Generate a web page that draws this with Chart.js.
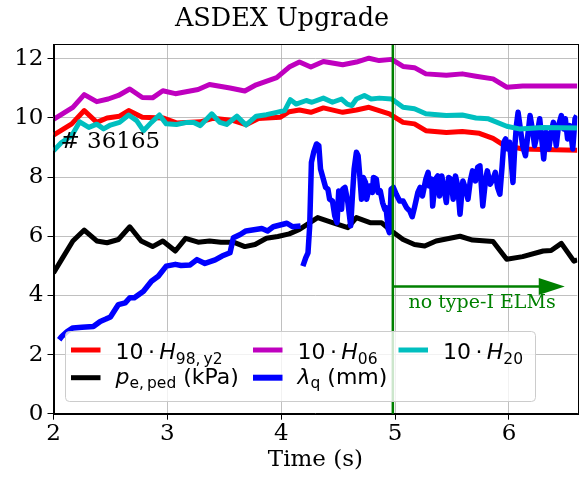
<!DOCTYPE html>
<html>
<head>
<meta charset="utf-8">
<script src="https://cdn.jsdelivr.net/npm/chart.js@4.4.1/dist/chart.umd.min.js"></script>
<style>
  html, body { margin: 0; padding: 0; background: #fff; }
  canvas { display: block; }
</style>
</head>
<body>
<canvas id="myChart" width="588" height="477"></canvas>
<script>
// 10*H98,y2
const h98T = [2.0, 2.16, 2.27, 2.38, 2.47, 2.58, 2.66, 2.78, 2.96, 3.08, 3.29, 3.40, 3.58, 3.69, 3.80, 3.99, 4.07, 4.16, 4.26, 4.37, 4.54, 4.66, 4.77, 4.95, 5.07, 5.17, 5.27, 5.45, 5.59, 5.74, 5.86, 5.95, 6.12, 6.30, 6.60];
const h98V = [9.42, 9.8, 10.25, 9.85, 10.0, 10.06, 10.25, 10.02, 10.0, 9.83, 9.87, 9.99, 9.91, 9.77, 9.98, 10.02, 10.21, 10.27, 10.19, 10.34, 10.19, 10.27, 10.36, 10.14, 9.85, 9.8, 9.57, 9.51, 9.54, 9.48, 9.31, 9.09, 8.95, 8.93, 8.91];

// 10*H06
const h06T = [2.0, 2.17, 2.27, 2.38, 2.48, 2.57, 2.67, 2.78, 2.87, 2.96, 3.07, 3.27, 3.37, 3.55, 3.68, 3.78, 3.96, 4.07, 4.16, 4.26, 4.37, 4.54, 4.66, 4.77, 4.86, 4.97, 5.07, 5.17, 5.27, 5.45, 5.59, 5.71, 5.86, 5.98, 6.12, 6.30, 6.60];
const h06V = [9.95, 10.36, 10.79, 10.55, 10.64, 10.76, 10.98, 10.69, 10.68, 10.92, 10.82, 10.96, 11.13, 11.01, 10.91, 11.12, 11.36, 11.72, 11.89, 11.72, 11.91, 11.8, 11.89, 12.02, 11.94, 11.98, 11.74, 11.7, 11.49, 11.44, 11.49, 11.41, 11.32, 11.04, 11.08, 11.08, 11.08];

// 10*H20
const h20T = [2.0, 2.07, 2.16, 2.23, 2.31, 2.38, 2.44, 2.5, 2.58, 2.66, 2.73, 2.79, 2.86, 2.93, 2.99, 3.08, 3.17, 3.23, 3.29, 3.39, 3.46, 3.52, 3.61, 3.69, 3.78, 3.87, 3.96, 4.03, 4.08, 4.13, 4.22, 4.27, 4.37, 4.45, 4.53, 4.58, 4.62, 4.66, 4.73, 4.79, 4.86, 4.97, 5.07, 5.17, 5.27, 5.45, 5.59, 5.71, 5.82, 5.98, 6.09, 6.30, 6.60];
const h20V = [8.89, 9.17, 9.4, 9.87, 9.68, 9.79, 9.63, 9.76, 9.85, 10.1, 9.91, 9.57, 9.85, 10.1, 9.8, 9.78, 9.85, 9.85, 9.74, 10.14, 9.85, 9.78, 10.06, 9.76, 10.06, 10.11, 10.19, 10.25, 10.62, 10.47, 10.59, 10.53, 10.67, 10.53, 10.64, 10.47, 10.42, 10.64, 10.76, 10.64, 10.67, 10.64, 10.36, 10.31, 10.14, 10.08, 10.1, 10.0, 9.97, 9.72, 9.63, 9.68, 9.66];

// p_e,ped (kPa)
const peT = [2.0, 2.08, 2.17, 2.27, 2.38, 2.47, 2.57, 2.67, 2.77, 2.87, 2.96, 3.07, 3.16, 3.27, 3.37, 3.47, 3.58, 3.68, 3.77, 3.87, 3.97, 4.07, 4.16, 4.32, 4.45, 4.585, 4.66, 4.78, 4.88, 4.95, 5.07, 5.17, 5.26, 5.36, 5.57, 5.68, 5.86, 5.98, 6.12, 6.30, 6.37, 6.46, 6.57, 6.60];
const peV = [4.76, 5.27, 5.84, 6.21, 5.84, 5.78, 5.89, 6.32, 5.84, 5.65, 5.84, 5.5, 5.93, 5.8, 5.84, 5.8, 5.8, 5.65, 5.72, 5.93, 5.99, 6.08, 6.23, 6.63, 6.46, 6.29, 6.63, 6.46, 6.46, 6.23, 5.89, 5.72, 5.67, 5.84, 6.0, 5.87, 5.82, 5.22, 5.31, 5.5, 5.52, 5.76, 5.16, 5.2];

// lambda_q (mm), gap at 4.18
const lamT = [2.05, 2.07, 2.12, 2.17, 2.25, 2.35, 2.41, 2.46, 2.5, 2.57, 2.63, 2.67, 2.71, 2.79, 2.86, 2.92, 2.99, 3.07, 3.12, 3.2, 3.26, 3.33, 3.42, 3.48, 3.55, 3.58, 3.64, 3.69, 3.83, 3.88, 3.93, 4.05, 4.1, 4.17,
  4.18,
  4.19, 4.215, 4.235, 4.25, 4.265, 4.285, 4.31, 4.33, 4.345, 4.37, 4.39, 4.41, 4.425, 4.45, 4.47, 4.49, 4.505, 4.53, 4.54, 4.56, 4.585, 4.61, 4.625, 4.64, 4.66, 4.675, 4.69, 4.705, 4.72, 4.74, 4.75, 4.775, 4.80, 4.81, 4.835, 4.85, 4.87, 4.89, 4.91, 4.92, 4.94, 4.95, 4.965, 4.985,
  5.01, 5.04, 5.07, 5.10, 5.13, 5.15, 5.17, 5.20, 5.22, 5.24, 5.27, 5.29, 5.30, 5.32, 5.33, 5.355, 5.375, 5.39, 5.41, 5.43, 5.45, 5.47, 5.49, 5.51, 5.53, 5.55, 5.57, 5.595, 5.62, 5.64, 5.66, 5.68, 5.705, 5.725, 5.745, 5.77, 5.795, 5.81, 5.835, 5.86, 5.88, 5.90, 5.92, 5.94, 5.955, 5.97, 5.99,
  6.005, 6.02, 6.035, 6.05, 6.065, 6.08, 6.10, 6.12, 6.145, 6.165, 6.185, 6.205, 6.225, 6.245, 6.27, 6.285, 6.305, 6.325, 6.35, 6.37, 6.39, 6.415, 6.435, 6.46, 6.48, 6.495, 6.515, 6.535, 6.56, 6.58, 6.595];
const lamV = [2.5, 2.6, 2.78, 2.9, 2.92, 2.95, 3.12, 3.2, 3.27, 3.69, 3.75, 3.92, 3.92, 4.14, 4.48, 4.65, 4.99, 5.05, 5.01, 5.03, 5.21, 5.08, 5.2, 5.33, 5.44, 5.95, 6.06, 6.18, 6.26, 6.18, 6.32, 6.44, 6.32, 6.35,
  null,
  4.99, 5.27, 5.44, 6.35, 8.5, 8.84, 9.12, 9.06, 8.27, 7.93, 7.65, 7.59, 7.25, 7.19, 6.69, 6.46, 7.53, 6.91, 7.59, 7.65, 7.14, 6.35, 7.36, 8.27, 8.84, 8.72, 8.04, 7.25, 7.99, 7.82, 7.25, 7.70, 7.48, 7.99, 7.93, 7.48, 7.53, 7.14, 6.91, 6.97, 6.23, 6.12, 7.59, 7.65,
  7.42, 7.19, 7.19, 6.97, 6.85, 6.66, 6.97, 7.48, 7.65, 7.36, 7.93, 8.16, 7.70, 7.93, 7.02, 7.93, 8.04, 7.36, 8.04, 7.59, 7.14, 7.99, 7.93, 7.25, 8.04, 7.70, 6.74, 7.87, 7.59, 7.25, 7.87, 8.21, 7.87, 8.33, 8.38, 7.02, 7.93, 8.21, 7.76, 7.93, 8.16, 7.65, 7.42, 8.38, 9.18, 9.29, 8.95,
  9.18, 8.50, 7.82, 8.95, 9.74, 10.19, 9.63, 9.06, 8.72, 9.40, 10.08, 9.63, 9.06, 9.40, 9.97, 9.40, 8.61, 9.52, 8.95, 9.52, 9.85, 9.06, 9.74, 10.08, 9.63, 9.97, 9.29, 9.74, 8.95, 9.97, 10.08];

const xTicks = [2, 3, 4, 5, 6];
const yTicks = [0, 2, 4, 6, 8, 10, 12];

const elmTime = 4.98;          // start of the no type-I ELM phase
const arrowEnd = 6.49;
const arrowLevel = 4.3;

const pts = (t, v) => t.map((x, i) => ({ x: x, y: v[i] }));

Chart.defaults.font.family = '"DejaVu Serif"';
Chart.defaults.color = '#000';

function line(label, t, v, color, width, order) {
  return {
    label: label,
    data: pts(t, v),
    borderColor: color,
    backgroundColor: color,
    borderWidth: width,
    pointRadius: 0,
    tension: 0,
    fill: false,
    spanGaps: false,
    borderJoinStyle: 'round',
    clip: 0,
    order: order
  };
}

// legend entries, column by column like matplotlib ncol=3
const legendItems = [
  { color: '#ff0000', width: 5, runs: [['10\u2009\u00b7\u2009', ''], ['H', 'i'], ['98,\u2009y2', 's']] },
  { color: '#000000', width: 5, runs: [['p', 'i'], ['e,\u2009ped', 's'], [' (kPa)', '']] },
  { color: '#bf00bf', width: 5, runs: [['10\u2009\u00b7\u2009', ''], ['H', 'i'], ['06', 's']] },
  { color: '#0000ff', width: 6, runs: [['\u03bb', 'i'], ['q', 's'], [' (mm)', '']] },
  { color: '#00bfbf', width: 5, runs: [['10\u2009\u00b7\u2009', ''], ['H', 'i'], ['20', 's']] }
];

function drawRuns(ctx, x, y, runs) {
  for (const [txt, kind] of runs) {
    let size = 22, dy = 0, style = '';
    if (kind === 'i') style = 'italic ';
    if (kind === 's') { size = 15.5; dy = 4.5; }
    ctx.font = style + size + 'px "DejaVu Sans"';
    ctx.fillText(txt, x, y + dy);
    x += ctx.measureText(txt).width;
  }
}

const extras = {
  id: 'extras',
  afterDatasetsDraw(chart) {
    const { ctx, chartArea: a, scales: { x, y } } = chart;
    ctx.save();

    // no type-I ELMs marker
    const xe = x.getPixelForValue(elmTime);
    ctx.strokeStyle = '#008000';
    ctx.lineWidth = 2.5;
    ctx.beginPath();
    ctx.moveTo(xe, a.top);
    ctx.lineTo(xe, a.bottom);
    ctx.stroke();

    const ya = y.getPixelForValue(arrowLevel);
    const xt = x.getPixelForValue(arrowEnd);
    ctx.lineWidth = 2.7;
    ctx.beginPath();
    ctx.moveTo(xe, ya);
    ctx.lineTo(xt - 22, ya);
    ctx.stroke();
    ctx.fillStyle = '#008000';
    ctx.beginPath();
    ctx.moveTo(xt, ya);
    ctx.lineTo(xt - 26, ya - 8.5);
    ctx.lineTo(xt - 26, ya + 8.5);
    ctx.closePath();
    ctx.fill();

    ctx.font = '19px "DejaVu Serif"';
    ctx.textAlign = 'center';
    ctx.textBaseline = 'alphabetic';
    ctx.fillText('no type-I ELMs', (xe + a.right) / 2 - 3, ya + 21);

    // shot number
    ctx.fillStyle = '#000';
    ctx.textAlign = 'left';
    ctx.font = '23px "DejaVu Serif"';
    ctx.fillText('# 36165', a.left + 7, 148);

    // frame
    ctx.strokeStyle = '#000';
    ctx.lineWidth = 1;
    ctx.strokeRect(Math.round(a.left) + 0.5, Math.round(a.top) + 0.5, Math.round(a.right - a.left), Math.round(a.bottom - a.top));
    ctx.restore();
  },
  afterDraw(chart) {
    const { ctx } = chart;
    ctx.save();
    // title
    ctx.fillStyle = '#000';
    ctx.font = '25.5px "DejaVu Serif"';
    ctx.textAlign = 'center';
    ctx.textBaseline = 'alphabetic';
    ctx.fillText('ASDEX Upgrade', 282, 26);

    // legend box
    const bx = 65.5, by = 331.5, bw = 470, bh = 70;
    ctx.beginPath();
    ctx.roundRect(bx, by, bw, bh, 4);
    ctx.fillStyle = 'rgba(255,255,255,0.8)';
    ctx.fill();
    ctx.strokeStyle = '#cccccc';
    ctx.lineWidth = 1;
    ctx.stroke();

    const colX = [71, 253, 398.5];
    const rowY = [350, 377.7];
    const rowBase = [359, 383.5];
    ctx.textAlign = 'left';
    legendItems.forEach((it, i) => {
      const c = Math.floor(i / 2), r = i % 2;
      ctx.strokeStyle = it.color;
      ctx.lineWidth = it.width;
      ctx.beginPath();
      ctx.moveTo(colX[c], rowY[r]);
      ctx.lineTo(colX[c] + 29.5, rowY[r]);
      ctx.stroke();
      ctx.fillStyle = '#000';
      drawRuns(ctx, colX[c] + 44.5, rowBase[r], it.runs);
    });
    ctx.restore();
  }
};

const config = {
  type: 'line',
  data: {
    datasets: [
      line('10·H98,y2', h98T, h98V, '#ff0000', 5, 5),
      line('pe,ped (kPa)', peT, peV, '#000000', 5, 4),
      line('10·H06', h06T, h06V, '#bf00bf', 5, 3),
      line('λq (mm)', lamT, lamV, '#0000ff', 5.5, 2),
      line('10·H20', h20T, h20V, '#00bfbf', 5, 1)
    ]
  },
  options: {
    responsive: false,
    animation: false,
    layout: { padding: { top: 44, right: 10.7, left: 0, bottom: 0 } },
    plugins: {
      legend: { display: false },
      title: { display: false },
      tooltip: { enabled: false }
    },
    scales: {
      x: {
        type: 'linear',
        min: 2,
        max: 6.6,
        afterBuildTicks: s => { s.ticks = xTicks.map(v => ({ value: v })); },
        afterFit: s => { s.height = 63.3; },
        grid: { color: '#b0b0b0', lineWidth: 0.8, tickColor: '#000', tickLength: 6, tickWidth: 1 },
        border: { color: '#000', width: 1 },
        ticks: { color: '#000', font: { size: 23 }, padding: 1, maxRotation: 0, autoSkip: false },
        title: { display: true, text: 'Time (s)', color: '#000', font: { size: 23 }, padding: { top: 0, bottom: 3 } }
      },
      y: {
        min: 0,
        max: 12.5,
        afterBuildTicks: s => { s.ticks = yTicks.map(v => ({ value: v })); },
        afterFit: s => { s.width = 53.5; },
        grid: { color: '#b0b0b0', lineWidth: 0.8, tickColor: '#000', tickLength: 6, tickWidth: 1 },
        border: { color: '#000', width: 1 },
        ticks: { color: '#000', font: { size: 23 }, padding: 4 }
      }
    }
  },
  plugins: [extras]
};

const myChart = new Chart(document.getElementById('myChart'), config);
</script>
</body>
</html>
